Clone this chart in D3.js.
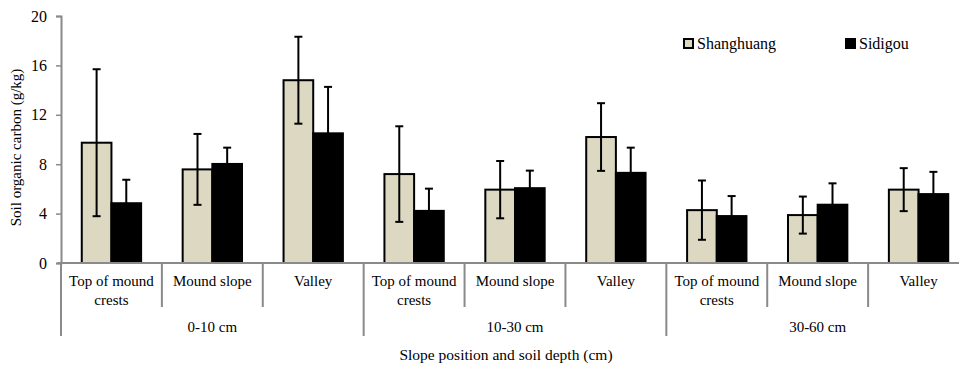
<!DOCTYPE html>
<html>
<head>
<meta charset="utf-8">
<script src="https://cdn.jsdelivr.net/npm/d3@7"></script>
</head>
<body style="margin:0;background:#fff">
<svg id="chart" width="959" height="366" font-family="Liberation Serif" style="display:block"></svg>
<script>
// Slope positions within each depth, and the depth groups
const positions = ["Top of mound crests", "Mound slope", "Valley"];
const depths = ["0-10 cm", "10-30 cm", "30-60 cm"];
const seriesNames = ["Shanghuang", "Sidigou"];

// Soil organic carbon means (g/kg), in order depth × position
const shanghuang = [9.74, 7.58, 14.8, 7.2, 5.94, 10.2, 4.28, 3.88, 5.94];
const sidigou    = [4.84, 8.02, 10.5, 4.22, 6.06, 7.3, 3.8, 4.72, 5.58];
// Error bar half-widths (g/kg)
const shanghuangErr = [5.95, 2.87, 3.52, 3.87, 2.32, 2.74, 2.4, 1.5, 1.74];
const sidigouErr    = [1.9, 1.32, 3.76, 1.8, 1.42, 2.04, 1.62, 1.73, 1.8];

const yTicks = [0, 4, 8, 12, 16, 20];

const colors = { Shanghuang: "#dcd8c2", Sidigou: "#000000" };
const axisColor = "#8a8a8a";
const FONT = "Liberation Serif";

// Category rows
const cats = [];
depths.forEach((d, gi) => positions.forEach((p, pi) => {
  const i = gi * positions.length + pi;
  cats.push({
    id: i, depth: d, position: p,
    values: [
      { series: "Shanghuang", value: shanghuang[i], err: shanghuangErr[i] },
      { series: "Sidigou", value: sidigou[i], err: sidigouErr[i] }
    ]
  });
}));

const svg = d3.select("#chart");
const plotLeft = 61, plotRight = 969, plotTop = 16, plotBottom = 263;

const x = d3.scaleBand().domain(cats.map(c => c.id)).range([plotLeft, plotRight]).padding(0);
const xs = d3.scaleBand().domain(seriesNames).range([0, x.bandwidth()])
  .paddingInner(0).paddingOuter(0.7);
const y = d3.scaleLinear().domain([0, 20]).range([plotBottom, plotTop]);

// Y axis
const yAxis = svg.append("g")
  .attr("transform", `translate(${plotLeft},0)`)
  .call(d3.axisLeft(y).tickValues(yTicks).tickSize(5).tickPadding(9).tickFormat(d3.format("d")));
yAxis.attr("font-family", FONT).attr("font-size", 16);
yAxis.select(".domain").attr("stroke", axisColor).attr("stroke-width", 2);
yAxis.selectAll(".tick line").attr("stroke", axisColor).attr("stroke-width", 1.5);
yAxis.selectAll(".tick text").attr("fill", "#000");

// Y axis title
svg.append("text")
  .attr("transform", `translate(21,${(plotTop + plotBottom) / 2 + 8}) rotate(-90)`)
  .attr("text-anchor", "middle")
  .attr("font-family", FONT).attr("font-size", 15)
  .text("Soil organic carbon (g/kg)");

// Bars
const groups = svg.append("g").selectAll("g.cat")
  .data(cats).join("g")
  .attr("class", "cat")
  .attr("transform", d => `translate(${x(d.id)},0)`);

groups.selectAll("rect")
  .data(d => d.values).join("rect")
  .attr("x", d => xs(d.series))
  .attr("y", d => y(d.value))
  .attr("width", xs.bandwidth())
  .attr("height", d => y(0) - y(d.value))
  .attr("fill", d => colors[d.series])
  .attr("stroke", "#000")
  .attr("stroke-width", 2);

// Error bars
const eb = groups.selectAll("g.err")
  .data(d => d.values).join("g")
  .attr("class", "err")
  .attr("transform", d => `translate(${xs(d.series) + xs.bandwidth() / 2},0)`);
eb.append("line")
  .attr("y1", d => y(d.value + d.err))
  .attr("y2", d => y(Math.max(0, d.value - d.err)))
  .attr("stroke", "#000").attr("stroke-width", 2);
eb.append("line")
  .attr("x1", -4).attr("x2", 4)
  .attr("y1", d => y(d.value + d.err)).attr("y2", d => y(d.value + d.err))
  .attr("stroke", "#000").attr("stroke-width", 2);
eb.append("line")
  .attr("x1", -4).attr("x2", 4)
  .attr("y1", d => y(Math.max(0, d.value - d.err))).attr("y2", d => y(Math.max(0, d.value - d.err)))
  .attr("stroke", "#000").attr("stroke-width", 2);

// X axis baseline
svg.append("line")
  .attr("x1", plotLeft - 3).attr("x2", plotRight)
  .attr("y1", y(0)).attr("y2", y(0))
  .attr("stroke", axisColor).attr("stroke-width", 2);

// Category dividers: short inside groups, long at group boundaries
const boundaries = d3.range(cats.length + 1);
svg.append("g").selectAll("line")
  .data(boundaries).join("line")
  .attr("x1", i => i < cats.length ? x(i) : plotRight)
  .attr("x2", i => i < cats.length ? x(i) : plotRight)
  .attr("y1", y(0))
  .attr("y2", i => i % positions.length === 0 ? 336 : 307)
  .attr("stroke", axisColor).attr("stroke-width", 2);

// Category labels (wrapped to two lines where needed)
function wrapLabel(p) {
  return p === "Top of mound crests" ? ["Top of mound", "crests"] : [p];
}
const catLabels = svg.append("g").selectAll("text")
  .data(cats).join("text")
  .attr("x", d => x(d.id) + x.bandwidth() / 2)
  .attr("y", 286)
  .attr("text-anchor", "middle")
  .attr("font-family", FONT).attr("font-size", 15);
catLabels.selectAll("tspan")
  .data(d => wrapLabel(d.position)).join("tspan")
  .attr("x", function () { return d3.select(this.parentNode).attr("x"); })
  .attr("dy", (t, i) => i === 0 ? 0 : 18.5)
  .text(t => t);

// Depth group labels
svg.append("g").selectAll("text")
  .data(depths).join("text")
  .attr("x", (d, gi) => (x(gi * 3) + x(gi * 3 + 2) + x.bandwidth()) / 2)
  .attr("y", 332)
  .attr("text-anchor", "middle")
  .attr("font-family", FONT).attr("font-size", 15)
  .text(d => d);

// X axis title
svg.append("text")
  .attr("x", 506).attr("y", 360)
  .attr("text-anchor", "middle")
  .attr("font-family", FONT).attr("font-size", 15.5)
  .text("Slope position and soil depth (cm)");

// Legend
const legendX = [683, 845];
const legend = svg.append("g").selectAll("g")
  .data(seriesNames).join("g")
  .attr("transform", (d, i) => `translate(${legendX[i]},38)`);
legend.append("rect")
  .attr("x", 1).attr("y", 1).attr("width", 9).attr("height", 9)
  .attr("fill", d => colors[d]).attr("stroke", "#000").attr("stroke-width", 2);
legend.append("text")
  .attr("x", 14).attr("y", 11)
  .attr("font-family", FONT).attr("font-size", 16)
  .text(d => d);
</script>
</body>
</html>
